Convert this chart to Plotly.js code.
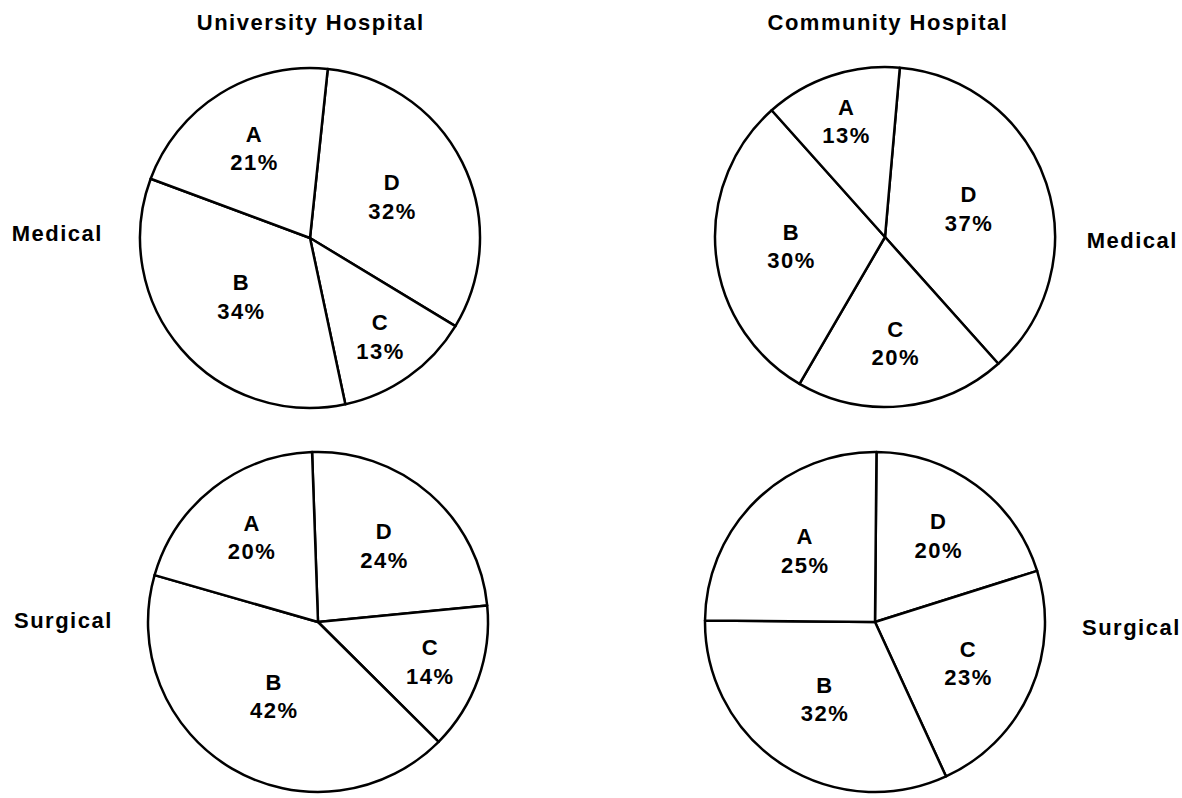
<!DOCTYPE html>
<html>
<head>
<meta charset="utf-8">
<script src="https://cdn.plot.ly/plotly-3.0.1.min.js"></script>
<style>
  html, body { margin: 0; padding: 0; background: #ffffff; }
  #chart { width: 1182px; height: 798px; }
  #chart svg text { letter-spacing: 1.5px; }
</style>
</head>
<body>
<div id="chart"></div>
<script>
// ---- data ----
const hospitals = ['University Hospital', 'Community Hospital'];
const wards = ['Medical', 'Surgical'];
const sliceLabels = ['D', 'C', 'B', 'A'];
const uniMedical = [32, 13, 34, 21];
const commMedical = [37, 20, 30, 13];
const uniSurgical = [24, 14, 42, 20];
const commSurgical = [20, 23, 32, 25];

// ---- layout helpers ----
const W = 1182, H = 798;
const FONT = 'Liberation Sans, Arial, Helvetica, sans-serif';
function domainFor(cx, cy, r) {
  return { x: [(cx - r) / W, (cx + r) / W], y: [1 - (cy + r) / H, 1 - (cy - r) / H] };
}

const pies = [
  { values: uniMedical,  rotation: 6,   dom: domainFor(310, 238, 170) },
  { values: commMedical, rotation: 5,   dom: domainFor(885, 237, 170) },
  { values: uniSurgical, rotation: -2,  dom: domainFor(318, 622, 170) },
  { values: commSurgical, rotation: 0.5, dom: domainFor(875, 622, 170) }
];

const traces = pies.map(p => ({
  type: 'pie',
  labels: sliceLabels,
  values: p.values,
  sort: false,
  direction: 'clockwise',
  rotation: p.rotation,
  domain: p.dom,
  texttemplate: '%{label}<br>%{value}%',
  textposition: 'inside',
  insidetextorientation: 'horizontal',
  textfont: { family: FONT, size: 22, color: '#000000', weight: 'bold' },
  marker: { colors: ['#ffffff', '#ffffff', '#ffffff', '#ffffff'], line: { color: '#000000', width: 2.5 } },
  hoverinfo: 'none',
  showlegend: false
}));

const annFont = { family: FONT, size: 22, color: '#000000', weight: 'bold' };
const annotations = [
  { text: hospitals[0], x: 311 / W, y: 1 - 22 / H },
  { text: hospitals[1], x: 888 / W, y: 1 - 22 / H },
  { text: wards[0], x: 58 / W, y: 1 - 234 / H },
  { text: wards[0], x: 1132 / W, y: 1 - 241 / H },
  { text: wards[1], x: 63 / W, y: 1 - 620 / H },
  { text: wards[1], x: 1131 / W, y: 1 - 627 / H }
].map(a => Object.assign({
  xref: 'paper', yref: 'paper', xanchor: 'center', yanchor: 'middle',
  showarrow: false, font: annFont
}, a));

const layout = {
  width: W, height: H,
  margin: { l: 0, r: 0, t: 0, b: 0 },
  paper_bgcolor: '#ffffff',
  plot_bgcolor: '#ffffff',
  annotations: annotations,
  showlegend: false
};

Plotly.newPlot('chart', traces, layout, { displayModeBar: false, staticPlot: true });
</script>
</body>
</html>
